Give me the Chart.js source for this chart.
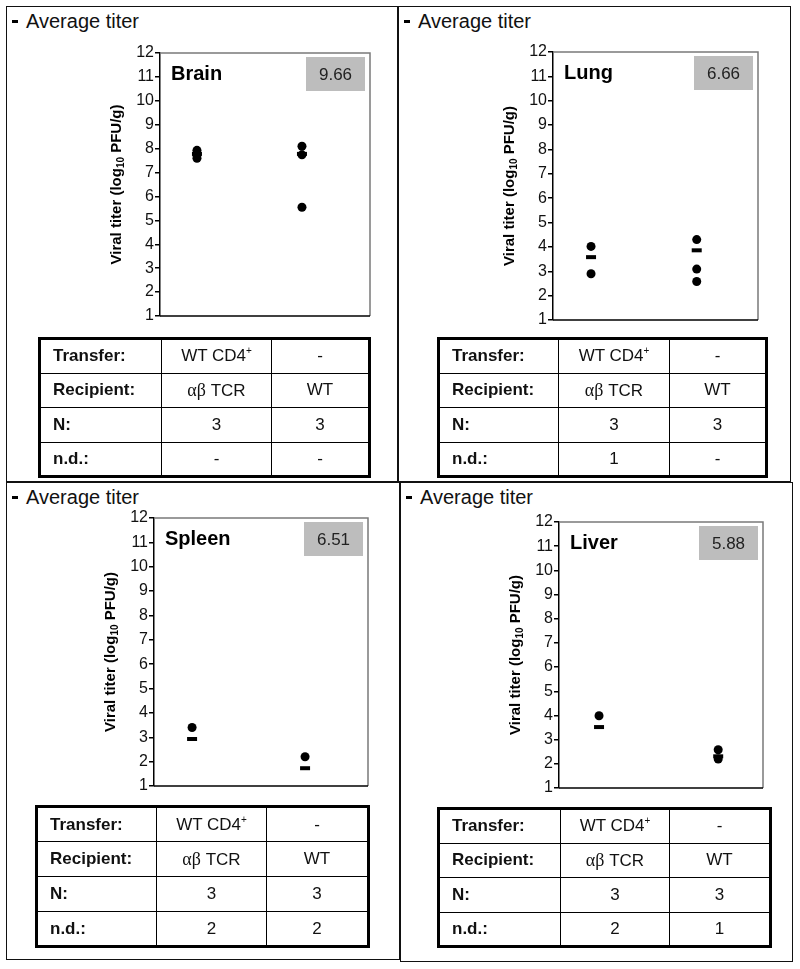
<!DOCTYPE html>
<html>
<head>
<meta charset="utf-8">
<script src="https://cdn.jsdelivr.net/npm/chart.js@4/dist/chart.umd.min.js"></script>
<style>
  body { margin: 0; background: #fff; }
  #fig { position: relative; width: 800px; height: 969px; font-family: 'Liberation Sans', Arial, sans-serif; color: #111; }
  .panel { position: absolute; border: 1.5px solid #111; box-sizing: border-box; }
  .legend { position: absolute; font-size: 20px; line-height: 20px; white-space: nowrap; }
  .legend-dash { position: absolute; width: 6px; height: 3px; background: #000; }
  canvas { position: absolute; }
  table.grid { position: absolute; border-collapse: collapse; border: 3.5px solid #000; table-layout: fixed; }
  table.grid td { border: 1.5px solid #000; font-size: 17px; text-align: center; padding: 0; }
  table.grid td.head { text-align: left; font-weight: bold; padding-left: 12px; }
  .greek { font-family: 'Liberation Serif', 'DejaVu Serif', serif; font-size: 18px; }
  sup { font-size: 10px; vertical-align: 7px; line-height: 0; }
</style>
</head>
<body>
<div id="fig"></div>
<script>
// ---- data ----
const organs = ['Brain', 'Lung', 'Spleen', 'Liver'];
const averageTiters = ['9.66', '6.66', '6.51', '5.88'];
const yMin = 1;
const yMax = 12;

// per group: [αβ TCR recipients, WT recipients]
const brainTiters = [[7.93, 7.73, 7.6], [8.1, 7.74, 5.55]];
const brainMeans = [7.78, 7.78];
const lungTiters = [[4.02, 2.9], [4.3, 3.09, 2.58]];
const lungMeans = [3.58, 3.86];
const spleenTiters = [[3.4], [2.2]];
const spleenMeans = [2.93, 1.73];
const liverTiters = [[3.99], [2.58, 2.2]];
const liverMeans = [3.52, 2.31];

const rowLabels = ['Transfer:', 'Recipient:', 'N:', 'n.d.:'];
const transferCells = ['WT CD4+', '-'];
const recipientCells = ['αβ TCR', 'WT'];
const nCells = [[3, 3], [3, 3], [3, 3], [3, 3]];
const ndCells = [['-', '-'], ['1', '-'], ['2', '2'], ['2', '1']];

const allTiters = [brainTiters, lungTiters, spleenTiters, liverTiters];
const allMeans = [brainMeans, lungMeans, spleenMeans, liverMeans];

// ---- layout (page pixels) ----
const layouts = [
  { box: [6, 6, 392, 476], area: [160, 53, 370, 316], xr: [0.648, 2.648], table: [38, 337, 330, 138], cols: [122, 110] },
  { box: [398, 6, 393, 476], area: [553, 52, 758, 320], xr: [0.64, 2.58], table: [437, 337, 328, 138], cols: [120, 111] },
  { box: [6, 482, 394, 478], area: [154, 518, 368, 786], xr: [0.663, 2.557], table: [35, 805, 332, 140], cols: [120, 110] },
  { box: [400, 482, 393, 480], area: [559, 522, 763, 788], xr: [0.664, 2.376], table: [437, 807, 332, 138], cols: [122, 109] }
];

const FONT = "'Liberation Sans', Arial, sans-serif";
const AXIS_W = 60;
const PAD_V = 22;

const panelDecor = {
  id: 'panelDecor',
  beforeDatasetsDraw(chart, args, opts) {
    const { ctx, chartArea: a } = chart;
    ctx.save();
    ctx.lineWidth = 1.5;
    ctx.strokeStyle = '#7a7a7a';
    ctx.beginPath();
    ctx.moveTo(a.left, a.top);
    ctx.lineTo(a.right, a.top);
    ctx.lineTo(a.right, a.bottom);
    ctx.stroke();
    ctx.strokeStyle = '#000';
    ctx.beginPath();
    ctx.moveTo(a.left, a.bottom);
    ctx.lineTo(a.right, a.bottom);
    ctx.stroke();

    // organ name
    ctx.fillStyle = '#000';
    ctx.font = `bold 20px ${FONT}`;
    ctx.textAlign = 'left';
    ctx.textBaseline = 'alphabetic';
    ctx.fillText(opts.organ, a.left + 11, a.top + 27);

    // average titer box
    const bw = 59, bh = 34;
    const bx = a.right - 5 - bw, by = a.top + 4;
    ctx.fillStyle = '#bdbdbd';
    ctx.fillRect(bx, by, bw, bh);
    ctx.fillStyle = '#222';
    ctx.font = `17px ${FONT}`;
    ctx.textAlign = 'center';
    ctx.textBaseline = 'middle';
    ctx.fillText(opts.value, bx + bw / 2, by + bh / 2 + 1);
    ctx.restore();
  },
  afterDraw(chart) {
    // y axis title with subscript
    const { ctx, chartArea: a } = chart;
    const parts = [
      { t: 'Viral titer (log', f: `bold 15px ${FONT}`, dy: 0 },
      { t: '10', f: `bold 10px ${FONT}`, dy: 4 },
      { t: ' PFU/g)', f: `bold 15px ${FONT}`, dy: 0 }
    ];
    ctx.save();
    let total = 0;
    parts.forEach(p => { ctx.font = p.f; p.w = ctx.measureText(p.t).width; total += p.w; });
    ctx.translate(a.left - 43, (a.top + a.bottom) / 2);
    ctx.rotate(-Math.PI / 2);
    ctx.fillStyle = '#000';
    ctx.textBaseline = 'middle';
    ctx.textAlign = 'left';
    let x = -total / 2;
    parts.forEach(p => {
      ctx.font = p.f;
      ctx.fillText(p.t, x, p.dy);
      x += p.w;
    });
    ctx.restore();
  }
};

const fig = document.getElementById('fig');

function buildTable(i, lay) {
  const [tx, ty, tw, th] = lay.table;
  const table = document.createElement('table');
  table.className = 'grid';
  Object.assign(table.style, { left: tx + 'px', top: ty + 'px', width: tw + 'px', height: th + 'px' });
  const cg = document.createElement('colgroup');
  const c3 = tw - lay.cols[0] - lay.cols[1];
  [lay.cols[0], lay.cols[1], c3].forEach(w => {
    const col = document.createElement('col');
    col.style.width = w + 'px';
    cg.appendChild(col);
  });
  table.appendChild(cg);

  const rows = [
    transferCells.map(v => v.replace('+', '<sup>+</sup>')),
    recipientCells.map(v => v.replace('αβ', '<span class="greek">αβ</span>')),
    nCells[i].map(String),
    ndCells[i].map(String)
  ];
  rows.forEach((cells, r) => {
    const tr = document.createElement('tr');
    tr.style.height = (th / 4) + 'px';
    const head = document.createElement('td');
    head.className = 'head';
    head.textContent = rowLabels[r];
    tr.appendChild(head);
    cells.forEach(c => {
      const td = document.createElement('td');
      td.innerHTML = c;
      tr.appendChild(td);
    });
    table.appendChild(tr);
  });
  fig.appendChild(table);
}

layouts.forEach((lay, i) => {
  const [px, py, pw, ph] = lay.box;
  const panel = document.createElement('div');
  panel.className = 'panel';
  Object.assign(panel.style, { left: px + 'px', top: py + 'px', width: pw + 'px', height: ph + 'px' });
  fig.appendChild(panel);

  const dash = document.createElement('div');
  dash.className = 'legend-dash';
  Object.assign(dash.style, { left: (px + 6) + 'px', top: (py + 14) + 'px' });
  fig.appendChild(dash);
  const leg = document.createElement('div');
  leg.className = 'legend';
  leg.textContent = 'Average titer';
  Object.assign(leg.style, { left: (px + 20) + 'px', top: (py + 5) + 'px' });
  fig.appendChild(leg);

  const [L, T, R, B] = lay.area;
  const cw = pw - 2;
  const ch = (B - T) + PAD_V * 2;
  const canvas = document.createElement('canvas');
  canvas.width = cw;
  canvas.height = ch;
  Object.assign(canvas.style, { left: px + 'px', top: (T - PAD_V) + 'px', width: cw + 'px', height: ch + 'px' });
  fig.appendChild(canvas);

  const dots = [];
  allTiters[i].forEach((vals, g) => vals.forEach(v => dots.push({ x: g + 1, y: v })));
  const means = allMeans[i].map((v, g) => ({ x: g + 1, y: v }));

  new Chart(canvas.getContext('2d'), {
    type: 'scatter',
    data: {
      datasets: [
        {
          label: 'Average titer',
          data: means,
          pointStyle: 'line',
          pointRadius: 5,
          pointBorderWidth: 4,
          pointBorderColor: '#000',
          pointBackgroundColor: '#000'
        },
        {
          label: 'Titer',
          data: dots,
          pointStyle: 'circle',
          pointRadius: 4.5,
          pointBorderWidth: 0,
          pointBackgroundColor: '#000'
        }
      ]
    },
    options: {
      responsive: false,
      animation: false,
      events: [],
      layout: {
        autoPadding: false,
        padding: { left: (L - px) - AXIS_W, right: (px + cw) - R, top: PAD_V, bottom: PAD_V }
      },
      plugins: {
        legend: { display: false },
        tooltip: { enabled: false },
        panelDecor: { organ: organs[i], value: averageTiters[i] }
      },
      scales: {
        x: { type: 'linear', display: false, min: lay.xr[0], max: lay.xr[1] },
        y: {
          min: yMin,
          max: yMax,
          afterFit: s => { s.width = AXIS_W; },
          ticks: { stepSize: 1, autoSkip: false, padding: 1, color: '#111', font: { family: FONT, size: 16 } },
          grid: { drawOnChartArea: false, drawTicks: true, tickLength: 5, color: '#000', lineWidth: 1.5 },
          border: { display: true, color: '#000', width: 1.5 }
        }
      }
    },
    plugins: [panelDecor]
  });

  buildTable(i, lay);
});
</script>
</body>
</html>
